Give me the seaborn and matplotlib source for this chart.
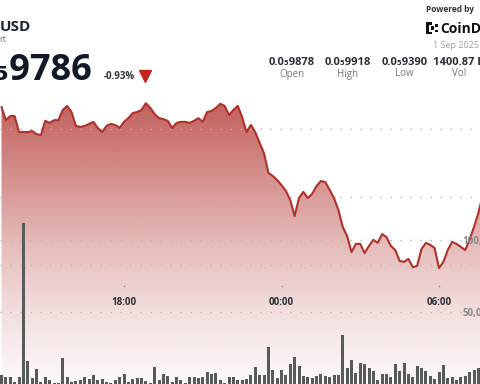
import numpy as np
import pandas as pd
import matplotlib
matplotlib.use("Agg")
import matplotlib.pyplot as plt
import seaborn as sns
from matplotlib.lines import Line2D
from matplotlib.patches import Rectangle

# ---------------- data ----------------
times = pd.date_range("2025-08-31 13:20", periods=111, freq="10min")

# price in units of 1e-9 USD (0.0₅9865 -> 9865)
price_1e9 = [
    9865, 9826, 9838, 9838, 9791, 9791, 9791, 9794, 9785, 9782,
    9824, 9818, 9826, 9826, 9856, 9868, 9850, 9809, 9806, 9809,
    9815, 9821, 9803, 9791, 9809, 9815, 9812, 9803,
    9821, 9832, 9847, 9850, 9856, 9876, 9862, 9844, 9832, 9829,
    9824, 9803, 9818, 9821, 9821, 9818, 9824, 9832, 9821, 9850,
    9853, 9862, 9874, 9868, 9841, 9856, 9868,
    9835, 9791, 9812, 9791, 9759, 9729, 9671, 9662, 9650, 9635,
    9618, 9591, 9544, 9597, 9615, 9597, 9609, 9632, 9647, 9644,
    9621, 9597, 9562, 9512, 9485, 9438, 9462, 9462, 9435, 9456,
    9474, 9465, 9491, 9482, 9456, 9444, 9412, 9409, 9418, 9394,
    9397, 9447, 9465, 9459, 9450, 9391, 9409, 9444, 9468, 9462,
    9453, 9444, 9474, 9512, 9553, 9606,
]

volume = [
    6250, 4650, 4650, 1600, 5070, 111800, 16000, 4170, 10200, 1600,
    4650, 2780, 700, 1040, 18260, 5070, 1600, 2290, 2780, 5070,
    3260, 6250, 2780, 3260, 1600, 700, 2780, 4650, 6940, 1600,
    3260, 4380, 4380, 2080, 700, 12000, 2780, 6940, 5560, 1390,
    4860, 2780, 1040, 4650, 5070, 3960, 4650, 8540, 6940, 7430,
    2780, 700, 4650, 5070, 2780, 2780, 3260, 6250, 12000, 6250,
    6250, 25500, 9720, 3960, 9720, 6250, 13900, 18540, 12500, 5560,
    5070, 3960, 5560, 6740, 5560, 4650, 6250, 6250, 34000, 10900,
    16670, 7850, 14800, 13680, 11320, 9030, 2780, 6940, 6940, 4650,
    13900, 9240, 14380, 6940, 4650, 12500, 11320, 9030, 5560, 3260,
    8130, 13200, 3960, 5070, 2780, 5070, 5560, 8540, 9720, 11320,
    9000,
]

x_tick_hours = [18, 24, 30]
x_tick_labels = ["18:00", "00:00", "06:00"]
price_grid_1e9 = [9400, 9600, 9800]
vol_ticks = [50000, 100000]
vol_tick_labels = ["50,000", "100,000"]

symbol = "USD"
subtitle = "rt"
last_price = "0.0₅9786"
change = "-0.93%"
stat_values = ["0.0₅9878", "0.0₅9918", "0.0₅9390", "1400.87 B"]
stat_names = ["Open", "High", "Low", "Vol"]
date_text = "1 Sep 2025"

# ---------------- styling ----------------
sns.set_theme(style="white")
plt.rcParams["font.family"] = ["Open Sans", "DejaVu Sans"]

W, H = 480, 384
fig = plt.figure(figsize=(W / 100, H / 100), dpi=100)
fig.patch.set_facecolor("white")
ax = fig.add_axes([0, 0, 1, 1])

hours = (times - pd.Timestamp("2025-08-31")) / pd.Timedelta(hours=1)
df = pd.DataFrame({"hour": np.asarray(hours, dtype=float),
                   "price": np.array(price_1e9) * 1e-9,
                   "volume": volume})

px_per_hour = 26.25
xlo = 18 - 124 / px_per_hour
xhi = 18 + (W - 124) / px_per_hour
ylo, yhi = 9050e-9, 10179.4e-9

# gradient fill under the line
base = np.array([180, 60, 55]) / 255
fr = np.linspace(0, 1, 500)               # axes fraction from bottom
px_top = (1 - fr) * H
alpha = np.interp(px_top, [0, 110, 250, 300, 340, 384],
                  [0.95, 0.79, 0.33, 0.20, 0.11, 0.03])
img = np.zeros((500, 1, 4))
img[:, 0, :3] = base
img[:, 0, 3] = alpha
im = ax.imshow(img, extent=[xlo, xhi, ylo, yhi], origin="lower",
               aspect="auto", zorder=0, interpolation="bilinear")
poly = ax.fill_between(df["hour"], df["price"], ylo, facecolor="none",
                       edgecolor="none")
im.set_clip_path(poly.get_paths()[0], transform=ax.transData)

sns.lineplot(data=df, x="hour", y="price", ax=ax, color="#b0302a",
             linewidth=1.5, zorder=4)

ax.set_xlim(xlo, xhi)
ax.set_ylim(ylo, yhi)
ax.set_yticks(np.array(price_grid_1e9) * 1e-9)
ax.tick_params(axis="y", labelleft=False, labelright=False, length=0)
ax.yaxis.grid(True, color="#b5b5b5", linewidth=1.0, linestyle=(0, (1, 6.2)))
ax.xaxis.grid(False)
ax.set_xticks(x_tick_hours, labels=x_tick_labels)
ax.tick_params(axis="x", length=0, pad=-62.5, labelsize=7, labelcolor="#2b2f36")
for lbl in ax.get_xticklabels():
    lbl.set_fontweight("bold")
ax.scatter(x_tick_hours, [1 - 286 / H] * len(x_tick_hours), s=1.3,
           color="#8c8c8c", linewidths=0, transform=ax.get_xaxis_transform(),
           zorder=5)
ax.set_xlabel("")
ax.set_ylabel("")
for s in ax.spines.values():
    s.set_visible(False)

# volume bars on twin axis
ax2 = ax.twinx()
ax2.bar(df["hour"], df["volume"], width=3 / px_per_hour, color="#575b58",
        linewidth=0, zorder=3)
ax2.set_ylim(0, H / 72 * 50000)
ax2.set_yticks(vol_ticks, labels=vol_tick_labels)
ax2.tick_params(axis="y", length=0, pad=-12.5, labelsize=7,
                labelcolor="#8a8a8a")
for lbl in ax2.get_yticklabels():
    lbl.set_fontweight("bold")
ax2.yaxis.grid(True, color="#b5b5b5", linewidth=1.0, linestyle=(0, (1, 6.2)))
ax2.set_ylabel("")
for s in ax2.spines.values():
    s.set_visible(False)
ax.set_xlim(xlo, xhi)


# ---------------- header ----------------
def fx(p):
    return p / W


def fy(p):
    return 1 - p / H


fig.text(fx(0), fy(31), symbol, fontsize=11, fontweight="bold",
         color="#1c2331", va="baseline", ha="left")
fig.text(fx(-1), fy(41.5), subtitle, fontsize=6.5, color="#777777",
         va="baseline", ha="left")
fig.text(fx(93), fy(80), last_price, fontsize=26, fontweight="bold",
         color="#111827", va="baseline", ha="right")
fig.text(fx(104), fy(79.3), change, fontsize=7, fontweight="bold",
         color="#333333", va="baseline", ha="left")
fig.add_artist(Line2D([fx(144.5)], [fy(76)], marker="v", markersize=8,
                      color="#c0281e", transform=fig.transFigure,
                      linestyle="none"))

fig.text(fx(426), fy(12), "Powered by", fontsize=6, fontweight="bold",
         color="#333333", va="baseline", ha="left")
# CoinDesk mark
for (x0, y0, w, h) in [(426, 22, 2.5, 12), (426, 22, 6, 2.5), (426, 31.5, 6, 2.5),
                       (431, 26, 2.5, 4), (435, 24, 2.5, 2.5), (435, 29.5, 2.5, 2.5)]:
    fig.add_artist(Rectangle((fx(x0), fy(y0 + h)), w / W, h / H,
                             transform=fig.transFigure, color="#111111", lw=0))
fig.text(fx(440), fy(33.3), "CoinDesk", fontsize=10, fontweight="bold",
         color="#111111", va="baseline", ha="left")
fig.text(fx(433), fy(48.5), date_text, fontsize=6.5, color="#a0a0a0",
         va="baseline", ha="left")

for cx, val, name in zip([292, 348, 404.5, 459], stat_values, stat_names):
    fig.text(fx(cx), fy(65), val, fontsize=8, fontweight="bold",
             color="#2b2f36", va="baseline", ha="center")
    fig.text(fx(cx), fy(76.5), name, fontsize=7, color="#777777",
             va="baseline", ha="center")

fig.savefig("out.png", dpi=100)
